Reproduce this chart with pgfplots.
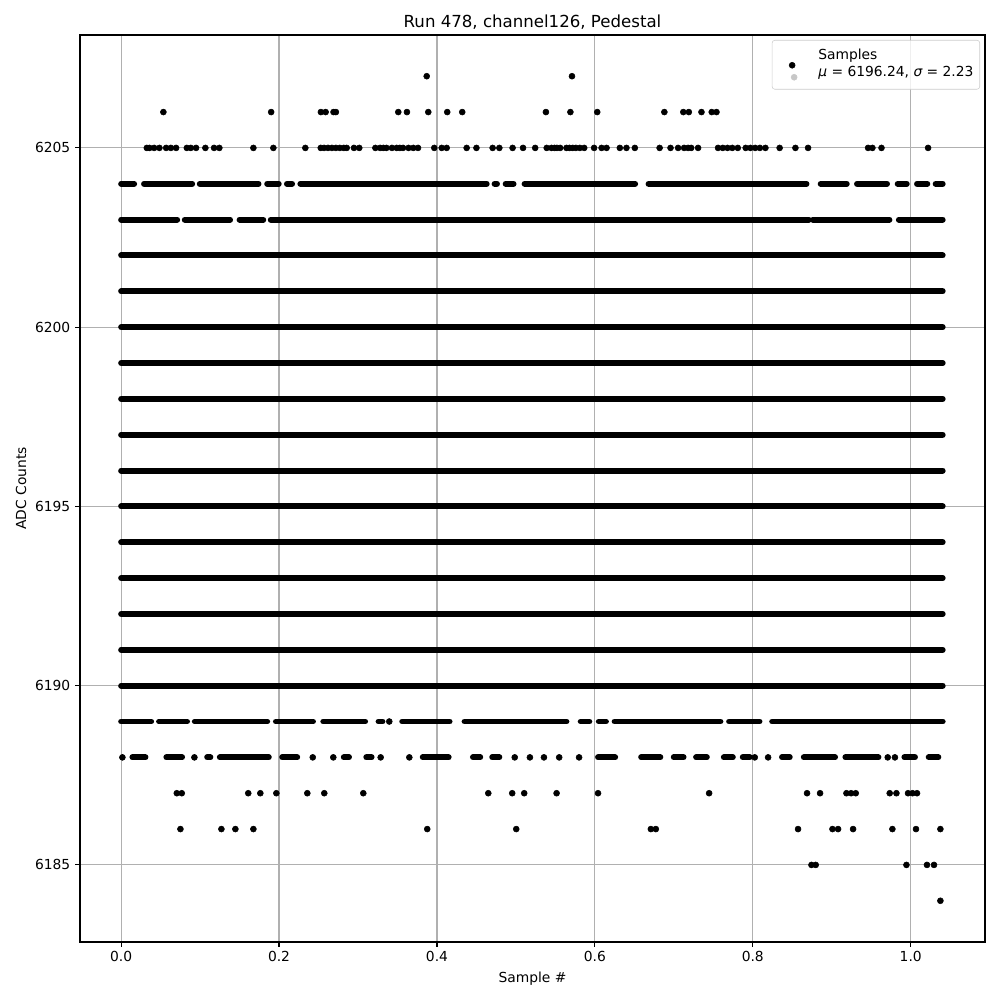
\documentclass[border=0pt]{standalone}
\usepackage{pgfplots}
\pgfplotsset{compat=1.18}
\usepackage{fontspec}
\setmainfont{DejaVu Sans}
\begin{document}
\fontsize{10}{12}\selectfont
\begin{tikzpicture}
\useasboundingbox (-0.80in,-0.58in) rectangle (9.20in,9.42in);
\begin{axis}[
  at={(0,0)}, anchor=south west,
  scale only axis, width=9.05in, height=9.07in,
  xmin=-0.0521, xmax=1.0941, ymin=6182.85, ymax=6208.15,
  xtick={0,0.2,0.4,0.6,0.8,1.0}, xticklabels={0.0,0.2,0.4,0.6,0.8,1.0},
  ytick={6185,6190,6195,6200,6205}, yticklabels={6185,6190,6195,6200,6205},
  tick align=outside, major tick length=3.5pt, xtick pos=left, ytick pos=left,
  tick style={black, line width=0.8pt},
  axis line style={line width=0.8pt},
  grid=major, major grid style={color=black!31, line width=0.8pt},
  ticklabel style={font=\fontsize{10}{12}\selectfont},
  title={Run 478, channel126, Pedestal},
  title style={at={(axis description cs:0.5,1.0055)}, anchor=center, font=\fontsize{12}{14.4}\selectfont},
  xlabel={Sample \#},
  xlabel style={at={(axis description cs:0.5,-0.0408)}, anchor=center, font=\fontsize{10}{12}\selectfont},
  ylabel={ADC Counts},
  ylabel style={at={(axis description cs:-0.0652,0.5)}, anchor=center, font=\fontsize{10}{12}\selectfont},
  unbounded coords=jump,
  legend style={at={(rel axis cs:1,1)}, anchor=north east, xshift=-0.05in, yshift=-0.05in,
    draw=black!20, rounded corners=2pt, fill=white, fill opacity=0.8, text opacity=1,
    inner xsep=2.5pt, inner ysep=0pt,
    font=\fontsize{10}{12}\selectfont, legend cell align=left},
]
% dense rows and runs of samples (drawn as continuous bands)
\addplot[black, line width=4.3pt, line cap=round, forget plot] coordinates {
(0,6204)(0.0165,6204)(0.02,nan)
(0.029,6204)(0.090,6204)(0.095,nan)
(0.0996,6204)(0.174,6204)(0.18,nan)
(0.185,6204)(0.1996,6204)(0.205,nan)
(0.210,6204)(0.2165,6204)(0.22,nan)
(0.227,6204)(0.463,6204)(0.47,nan)
(0.473,6204)(0.476,6204)(0.48,nan)
(0.487,6204)(0.497,6204)(0.50,nan)
(0.511,6204)(0.651,6204)(0.66,nan)
(0.668,6204)(0.868,6204)(0.87,nan)
(0.886,6204)(0.919,6204)(0.925,nan)
(0.932,6204)(0.970,6204)(0.975,nan)
(0.9835,6204)(0.995,6204)(1.0,nan)
(1.008,6204)(1.021,6204)(1.025,nan)
(1.0316,6204)(1.0405,6204)(1.05,nan)
(0,6203)(0.071,6203)(0.075,nan)
(0.0806,6203)(0.138,6203)(0.14,nan)
(0.150,6203)(0.180,6203)(0.185,nan)
(0.1895,6203)(0.871,6203)(0.873,nan)
(0.876,6203)(0.973,6203)(0.98,nan)
(0.985,6203)(1.0405,6203)(1.05,nan)
(0,6202)(1.0405,6202)(1.05,nan)
(0,6201)(1.0405,6201)(1.05,nan)
(0,6200)(1.0405,6200)(1.05,nan)
(0,6199)(1.0405,6199)(1.05,nan)
(0,6198)(1.0405,6198)(1.05,nan)
(0,6197)(1.0405,6197)(1.05,nan)
(0,6196)(1.0405,6196)(1.05,nan)
(0,6195)(1.0405,6195)(1.05,nan)
(0,6194)(1.0405,6194)(1.05,nan)
(0,6193)(1.0405,6193)(1.05,nan)
(0,6192)(1.0405,6192)(1.05,nan)
(0,6191)(1.0405,6191)(1.05,nan)
(0,6190)(1.0405,6190)(1.05,nan)
(0,6189)(0.038,6189)(0.04,nan)
(0.048,6189)(0.0835,6189)(0.09,nan)
(0.0933,6189)(0.185,6189)(0.19,nan)
(0.196,6189)(0.243,6189)(0.25,nan)
(0.256,6189)(0.309,6189)(0.31,nan)
(0.326,6189)(0.331,6189)(0.335,nan)
(0.356,6189)(0.416,6189)(0.42,nan)
(0.435,6189)(0.564,6189)(0.57,nan)
(0.582,6189)(0.593,6189)(0.6,nan)
(0.605,6189)(0.614,6189)(0.62,nan)
(0.625,6189)(0.759,6189)(0.765,nan)
(0.770,6189)(0.8085,6189)(0.815,nan)
(0.8245,6189)(1.0405,6189)(1.05,nan)
(0.0143,6188)(0.0308,6188)(0.04,nan)
(0.0573,6188)(0.0772,6188)(0.08,nan)
(0.109,6188)(0.113,6188)(0.12,nan)
(0.125,6188)(0.187,6188)(0.19,nan)
(0.204,6188)(0.223,6188)(0.23,nan)
(0.282,6188)(0.2886,6188)(0.29,nan)
(0.3105,6188)(0.3172,6188)(0.32,nan)
(0.382,6188)(0.4148,6188)(0.42,nan)
(0.4456,6188)(0.4548,6188)(0.46,nan)
(0.470,6188)(0.479,6188)(0.48,nan)
(0.604,6188)(0.6257,6188)(0.63,nan)
(0.6586,6188)(0.6829,6188)(0.69,nan)
(0.6999,6188)(0.7123,6188)(0.72,nan)
(0.7282,6188)(0.7418,6188)(0.75,nan)
(0.7633,6188)(0.7747,6188)(0.78,nan)
(0.7873,6188)(0.7962,6188)(0.80,nan)
(0.8370,6188)(0.8468,6188)(0.85,nan)
(0.8646,6188)(0.9042,6188)(0.91,nan)
(0.9173,6188)(0.9591,6188)(0.96,nan)
(0.9920,6188)(1.0054,6188)(1.01,nan)
(1.0228,6188)(1.0350,6188)(1.04,nan)
};
% isolated samples
\addplot[only marks, mark=*, mark size=2.15pt, mark options={draw=none, fill=black}, forget plot] coordinates {
(0.387,6207)(0.571,6207)
(0.0535,6206)(0.190,6206)(0.253,6206)(0.259,6206)(0.269,6206)(0.272,6206)(0.351,6206)(0.362,6206)
(0.389,6206)(0.413,6206)(0.432,6206)(0.538,6206)(0.569,6206)(0.603,6206)(0.688,6206)(0.712,6206)
(0.719,6206)(0.735,6206)(0.748,6206)(0.754,6206)
(0.0325,6205)(0.036,6205)(0.0418,6205)(0.0485,6205)(0.057,6205)(0.063,6205)(0.0696,6205)(0.0832,6205)
(0.0882,6205)(0.0949,6205)(0.1067,6205)(0.1177,6205)(0.1244,6205)(0.1675,6205)(0.1928,6205)(0.2333,6205)
(0.2528,6205)(0.257,6205)(0.262,6205)(0.267,6205)(0.272,6205)(0.277,6205)(0.282,6205)(0.2857,6205)
(0.2949,6205)(0.3016,6205)(0.322,6205)(0.328,6205)(0.332,6205)(0.336,6205)(0.343,6205)(0.349,6205)
(0.353,6205)(0.357,6205)(0.364,6205)(0.370,6205)(0.376,6205)(0.3966,6205)(0.406,6205)(0.4123,6205)
(0.4376,6205)(0.450,6205)(0.4705,6205)(0.479,6205)(0.4958,6205)(0.509,6205)(0.5244,6205)(0.539,6205)
(0.545,6205)(0.549,6205)(0.552,6205)(0.556,6205)(0.564,6205)(0.568,6205)(0.572,6205)(0.576,6205)
(0.581,6205)(0.5865,6205)(0.599,6205)(0.6085,6205)(0.6148,6205)(0.6316,6205)(0.640,6205)(0.6506,6205)
(0.682,6205)(0.6958,6205)(0.7054,6205)(0.713,6205)(0.718,6205)(0.722,6205)(0.7307,6205)(0.756,6205)
(0.762,6205)(0.768,6205)(0.774,6205)(0.781,6205)(0.791,6205)(0.797,6205)(0.803,6205)(0.809,6205)
(0.816,6205)(0.834,6205)(0.854,6205)(0.870,6205)(0.946,6205)(0.9515,6205)(0.963,6205)(1.022,6205)
(0.3396,6189)
(0.0016,6188)(0.0928,6188)(0.2427,6188)(0.2687,6188)(0.3287,6188)(0.365,6188)(0.4985,6188)(0.5177,6188)
(0.5355,6188)(0.5548,6188)(0.580,6188)(0.8025,6188)(0.8194,6188)(0.9709,6188)(0.980,6188)
(0.0705,6187)(0.0768,6187)(0.161,6187)(0.1763,6187)(0.1966,6187)(0.2358,6187)(0.2573,6187)(0.3067,6187)
(0.465,6187)(0.4953,6187)(0.5105,6187)(0.5515,6187)(0.604,6187)(0.7447,6187)(0.8687,6187)(0.8852,6187)
(0.9186,6187)(0.9245,6187)(0.9304,6187)(0.9734,6187)(0.9819,6187)(0.9966,6187)(1.0023,6187)(1.0080,6187)
(0.0751,6186)(0.127,6186)(0.1447,6186)(0.1675,6186)(0.3877,6186)(0.5004,6186)(0.6709,6186)(0.6772,6186)
(0.8573,6186)(0.9009,6186)(0.9080,6186)(0.927,6186)(0.9768,6186)(1.0067,6186)(1.0376,6186)
(0.8743,6185)(0.8797,6185)(0.9946,6185)(1.0206,6185)(1.0295,6185)
(1.0376,6184)
};
\addlegendimage{legend image code/.code={
  \path[draw=none, fill=none] (-0.04in,0.19in) rectangle (0.36in,-0.30in);
  \fill[black, fill opacity=1] (0.126in,-0.06in) circle (2.15pt);
  \fill[black!22, fill opacity=1] (0.146in,-0.18in) circle (2.15pt);}}
\addlegendentry{\begin{tabular}{@{}l@{}}Samples\\{\itshape μ} = 6196.24, {\itshape σ} = 2.23\end{tabular}}
\node[anchor=north east, inner sep=0pt, font=\fontsize{10}{12}\selectfont] at (rel axis cs:1,0) [yshift=-0.26in] {1e6};
\end{axis}
\end{tikzpicture}
\end{document}
